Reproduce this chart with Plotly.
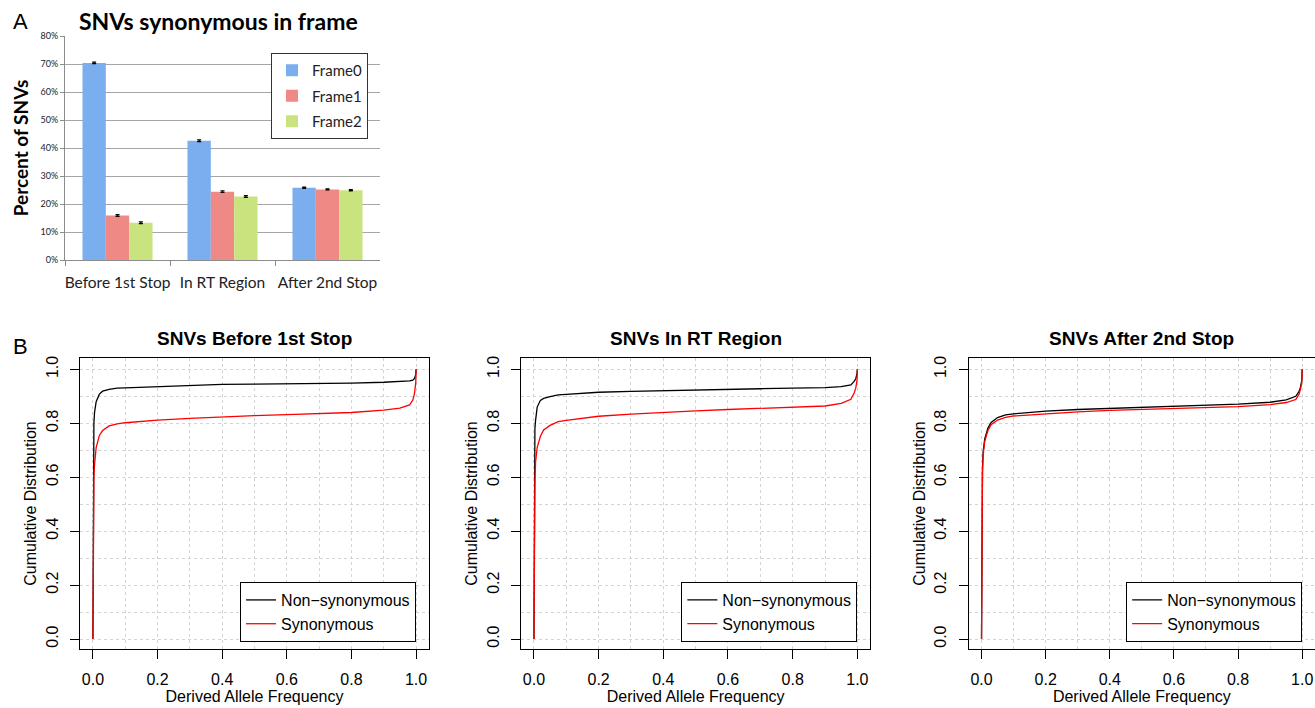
import plotly.graph_objects as go

W, H = 1315, 708

# ---------------- Panel A data ----------------
regions = ["Before 1st Stop", "In RT Region", "After 2nd Stop"]
frame0 = [70.4, 42.6, 25.8]
frame1 = [15.9, 24.4, 25.2]
frame2 = [13.3, 22.7, 24.9]
frame0_err = [0.3, 0.3, 0.2]
frame1_err = [0.3, 0.3, 0.2]
frame2_err = [0.3, 0.3, 0.2]
pct_ticks = [0, 10, 20, 30, 40, 50, 60, 70, 80]

# ---------------- Panel B data ----------------
daf = [0, 0.001, 0.003, 0.005, 0.01, 0.02, 0.03, 0.05, 0.075, 0.1, 0.15, 0.2, 0.3,
       0.4, 0.5, 0.6, 0.7, 0.8, 0.9, 0.95, 0.98, 0.99, 0.995, 0.999, 1.0]

before_nonsyn = [0.0, 0.70, 0.80, 0.84, 0.88, 0.908, 0.919, 0.926, 0.930, 0.931, 0.933, 0.936, 0.940,
                 0.944, 0.945, 0.946, 0.947, 0.949, 0.952, 0.954, 0.957, 0.960, 0.966, 0.980, 1.0]
before_syn = [0.0, 0.50, 0.60, 0.646, 0.71, 0.755, 0.773, 0.790, 0.798, 0.802, 0.807, 0.812, 0.818,
              0.824, 0.828, 0.832, 0.836, 0.840, 0.849, 0.856, 0.868, 0.886, 0.910, 0.950, 1.0]

rt_nonsyn = [0.0, 0.65, 0.78, 0.81, 0.86, 0.885, 0.892, 0.899, 0.905, 0.907, 0.911, 0.915, 0.918,
             0.921, 0.923, 0.926, 0.928, 0.930, 0.932, 0.936, 0.942, 0.955, 0.965, 0.985, 1.0]
rt_syn = [0.0, 0.45, 0.58, 0.656, 0.71, 0.752, 0.775, 0.792, 0.806, 0.811, 0.819, 0.826, 0.834,
          0.841, 0.846, 0.851, 0.855, 0.859, 0.864, 0.874, 0.889, 0.912, 0.930, 0.960, 1.0]

after_nonsyn = [0.0, 0.45, 0.63, 0.694, 0.742, 0.782, 0.803, 0.821, 0.831, 0.835, 0.841, 0.845, 0.851,
                0.855, 0.859, 0.863, 0.867, 0.871, 0.878, 0.887, 0.900, 0.917, 0.935, 0.960, 1.0]
after_syn = [0.0, 0.43, 0.62, 0.682, 0.733, 0.773, 0.795, 0.812, 0.822, 0.827, 0.831, 0.834, 0.842,
             0.848, 0.852, 0.856, 0.859, 0.862, 0.869, 0.877, 0.888, 0.907, 0.928, 0.955, 1.0]

panel_titles = ["SNVs Before 1st Stop", "SNVs In RT Region", "SNVs After 2nd Stop"]
series_names = ["Non\u2212synonymous", "Synonymous"]
cdf_ticks = [0.0, 0.2, 0.4, 0.6, 0.8, 1.0]

# ---------------- layout helpers ----------------
def px_x(a, b):
    return [a / W, b / W]

def px_y(top, bottom):
    return [(H - bottom) / H, (H - top) / H]

CAL = "Lato, Calibri, Carlito, sans-serif"
HEL = "Liberation Sans, Arial, Helvetica, sans-serif"

fig = go.Figure()

# ---------------- Panel A ----------------
bar_colors = ["#7aaeee", "#ef8986", "#c9e47f"]
for name, vals, errs, col in [("Frame0", frame0, frame0_err, bar_colors[0]),
                              ("Frame1", frame1, frame1_err, bar_colors[1]),
                              ("Frame2", frame2, frame2_err, bar_colors[2])]:
    fig.add_trace(go.Bar(
        x=regions, y=vals, name=name, marker=dict(color=col, line=dict(width=0)),
        error_y=dict(type="data", array=errs, color="black", thickness=1.2, width=2),
        xaxis="x", yaxis="y", legend="legend", legendgroup=name,
    ))

# ---------------- Panel B ----------------
b_x_domains = [px_x(80, 429), px_x(521, 870.3), px_x(968.7, 1315)]
b_y_domain = px_y(358, 649)
XR = [-0.04, 1.04]
YR = [-0.037, 1.042]

curves = [(before_nonsyn, before_syn), (rt_nonsyn, rt_syn), (after_nonsyn, after_syn)]
for i, (ns, sy) in enumerate(curves):
    ax = str(i + 2)
    lg = "legend" + ax
    fig.add_trace(go.Scatter(x=daf, y=ns, mode="lines", name=series_names[0],
                             line=dict(color="black", width=1.3),
                             xaxis="x" + ax, yaxis="y" + ax, legend=lg))
    fig.add_trace(go.Scatter(x=daf, y=sy, mode="lines", name=series_names[1],
                             line=dict(color="#ff0000", width=1.3),
                             xaxis="x" + ax, yaxis="y" + ax, legend=lg))

layout = dict(
    width=W, height=H,
    margin=dict(l=0, r=0, t=0, b=0, autoexpand=False),
    paper_bgcolor="white", plot_bgcolor="white",
    barmode="group", bargap=0.333, bargroupgap=0,
    font=dict(family=HEL, color="black"),
    showlegend=True,
)

layout["xaxis"] = dict(
    domain=px_x(65, 380), anchor="y",
    showline=True, linecolor="#8c8c8c", linewidth=1,
    ticks="outside", tickson="boundaries", ticklen=5, tickcolor="#8c8c8c",
    tickfont=dict(family=CAL, size=15.5, color="#222222"), tickangle=0, ticklabelstandoff=8,
    showgrid=False, zeroline=False,
)
layout["yaxis"] = dict(
    domain=px_y(36, 260), anchor="x", range=[0, 80],
    tickvals=pct_ticks, ticktext=[f"{v}%" for v in pct_ticks],
    tickfont=dict(family=CAL, size=9, color="#222222"),
    showline=True, linecolor="#8c8c8c", linewidth=1,
    ticks="outside", ticklen=4, tickcolor="#8c8c8c",
    showgrid=True, gridcolor="#a6a6a6", gridwidth=1, zeroline=False,
    title=dict(text="<b>Percent of SNVs</b>", font=dict(family=CAL, size=19), standoff=6),
)

legends = {}
legends["legend"] = dict(
    x=368 / W, y=(H - 53) / H, xanchor="right", yanchor="top",
    bgcolor="white", bordercolor="#333333", borderwidth=1,
    font=dict(family=CAL, size=15, color="#222222"), tracegroupgap=3,
)

annotations = [
    dict(text="<b>SNVs synonymous in frame</b>", x=218 / W, y=(H - 21) / H, xref="paper", yref="paper",
         showarrow=False, font=dict(family=CAL, size=23, color="black"), xanchor="center", yanchor="middle"),
    dict(text="A", x=20 / W, y=(H - 22) / H, xref="paper", yref="paper", showarrow=False,
         font=dict(family=HEL, size=22, color="black"), xanchor="center", yanchor="middle"),
    dict(text="B", x=20 / W, y=(H - 347) / H, xref="paper", yref="paper", showarrow=False,
         font=dict(family=HEL, size=22, color="black"), xanchor="center", yanchor="middle"),
]

for i in range(3):
    ax = str(i + 2)
    dom = b_x_domains[i]
    layout["xaxis" + ax] = dict(
        domain=dom, anchor="y" + ax, range=XR,
        tickvals=cdf_ticks, ticktext=[f"{v:.1f}" for v in cdf_ticks],
        tickfont=dict(size=16), ticks="outside", ticklen=9, tickcolor="black",
        ticklabelstandoff=7,
        showline=True, mirror=True, linecolor="black", linewidth=1,
        showgrid=True, gridcolor="#d3d3d3", griddash="dot", gridwidth=1,
        minor=dict(dtick=0.1, tick0=0, showgrid=True, gridcolor="#d3d3d3", griddash="dot", ticks=""),
        zeroline=False,
        title=dict(text="Derived Allele Frequency", font=dict(size=16), standoff=0),
    )
    layout["yaxis" + ax] = dict(
        domain=b_y_domain, anchor="x" + ax, range=YR,
        tickvals=cdf_ticks, ticktext=[f"{v:.1f}" for v in cdf_ticks],
        tickfont=dict(size=16), tickangle=-90, ticks="outside", ticklen=9, tickcolor="black",
        ticklabelstandoff=6,
        showline=True, mirror=True, linecolor="black", linewidth=1,
        showgrid=True, gridcolor="#d3d3d3", griddash="dot", gridwidth=1,
        minor=dict(dtick=0.1, tick0=0, showgrid=True, gridcolor="#d3d3d3", griddash="dot", ticks=""),
        zeroline=False,
        title=dict(text="Cumulative Distribution", font=dict(size=16), standoff=2),
    )
    # legend anchored at data point (1.0, 0.0) of each subplot
    fx = dom[0] + (dom[1] - dom[0]) * (1.0 - XR[0]) / (XR[1] - XR[0])
    fy = b_y_domain[0] + (b_y_domain[1] - b_y_domain[0]) * (0.0 - YR[0]) / (YR[1] - YR[0])
    legends["legend" + ax] = dict(
        x=fx, y=fy - 3 / H, xanchor="right", yanchor="bottom",
        bgcolor="white", bordercolor="black", borderwidth=1,
        font=dict(size=16, color="black"),
    )
    annotations.append(dict(
        text="<b>" + panel_titles[i] + "</b>", x=(dom[0] + dom[1]) / 2, y=(H - 338) / H,
        xref="paper", yref="paper", showarrow=False, font=dict(size=19, color="black"),
        xanchor="center", yanchor="middle",
    ))

layout.update(legends)
layout["annotations"] = annotations
fig.update_layout(**layout)

fig.write_html("out.html")
